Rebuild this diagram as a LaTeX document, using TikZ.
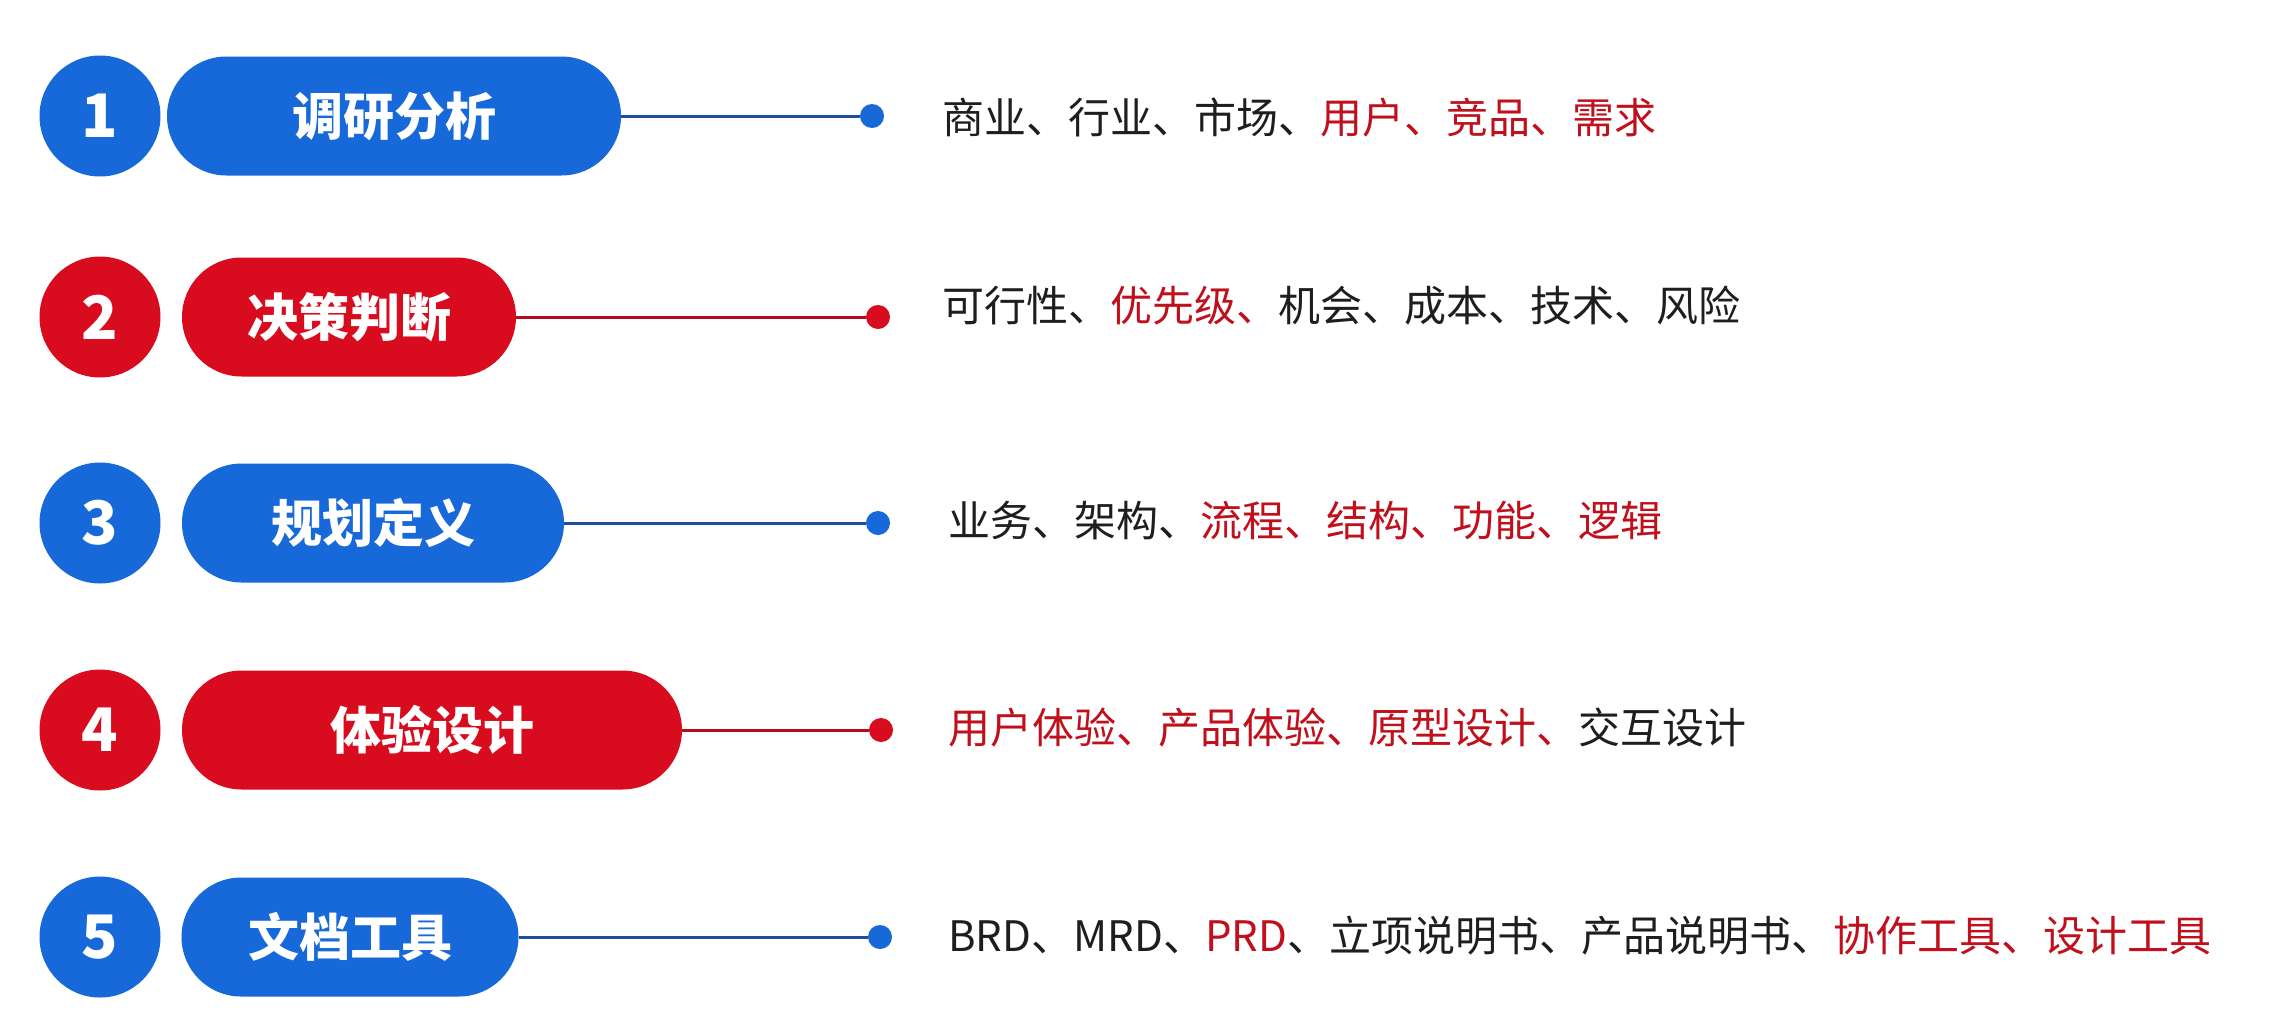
\documentclass[tikz,border=0pt]{standalone}
\usepackage{fontspec}
\setmainfont{Noto Sans CJK SC}
\newfontfamily\cjk{Noto Sans CJK SC}
\definecolor{cblue}{HTML}{1768D8}
\definecolor{cred}{HTML}{D80C1E}
\definecolor{lblue}{HTML}{1E4F9E}
\definecolor{lred}{HTML}{B00E1C}
\definecolor{tred}{HTML}{C0101C}
\definecolor{tblack}{HTML}{1E1E1E}
\newcommand{\rd}[1]{\textcolor{tred}{#1}}
\tikzset{
  numc/.style={circle, fill=#1, minimum size=121pt, inner sep=0pt, text=white, font=\fontsize{60}{60}\selectfont\bfseries},
  pill/.style={rounded rectangle, fill=#1, minimum height=119pt, inner sep=0pt, text=white, font=\fontsize{51}{51}\selectfont\bfseries},
  dotc/.style={circle, fill=#1, minimum size=24pt, inner sep=0pt},
  conn/.style={draw=#1, line width=3pt},
  desc/.style={anchor=west, inner sep=0pt, text=tblack, font=\fontsize{42}{42}\selectfont}
}
\usetikzlibrary{shapes.misc}
\begin{document}
\begin{tikzpicture}[x=1pt,y=-1pt]
\useasboundingbox[fill=white] (0,0) rectangle (2280,1028);
% Row 1
\node[numc=cblue] (n1) at (100,116) {1};
\node[pill=cblue, minimum width=454pt] (p1) at (394,116) {调研分析};
\node[dotc=cblue] (d1) at (872,116) {};
\draw[conn=lblue] (p1.east) -- (d1);
\node[desc] (t1) at (942,117) {商业、行业、市场、\rd{用户、竞品、需求}};
% Row 2
\node[numc=cred] (n2) at (100,317) {2};
\node[pill=cred, minimum width=334pt] (p2) at (349,317) {决策判断};
\node[dotc=cred] (d2) at (878,317) {};
\draw[conn=lred] (p2.east) -- (d2);
\node[desc] (t2) at (942,306) {可行性、\rd{优先级、}机会、成本、技术、风险};
% Row 3
\node[numc=cblue] (n3) at (100,523) {3};
\node[pill=cblue, minimum width=382pt] (p3) at (373,523) {规划定义};
\node[dotc=cblue] (d3) at (878,523) {};
\draw[conn=lblue] (p3.east) -- (d3);
\node[desc] (t3) at (948,521) {业务、架构、\rd{流程、结构、功能、逻辑}};
% Row 4
\node[numc=cred] (n4) at (100,730) {4};
\node[pill=cred, minimum width=500pt] (p4) at (432,730) {体验设计};
\node[dotc=cred] (d4) at (881,730) {};
\draw[conn=lred] (p4.east) -- (d4);
\node[desc] (t4) at (948,727) {\rd{用户体验、产品体验、原型设计、}交互设计};
% Row 5
\node[numc=cblue] (n5) at (100,937) {5};
\node[pill=cblue, minimum width=337pt] (p5) at (350,937) {文档工具};
\node[dotc=cblue] (d5) at (880,937) {};
\draw[conn=lblue] (p5.east) -- (d5);
\node[desc] (t5) at (948,936) {BRD、MRD、\rd{PRD}、立项说明书、产品说明书、\rd{协作工具、设计工具}};
\end{tikzpicture}
\end{document}
